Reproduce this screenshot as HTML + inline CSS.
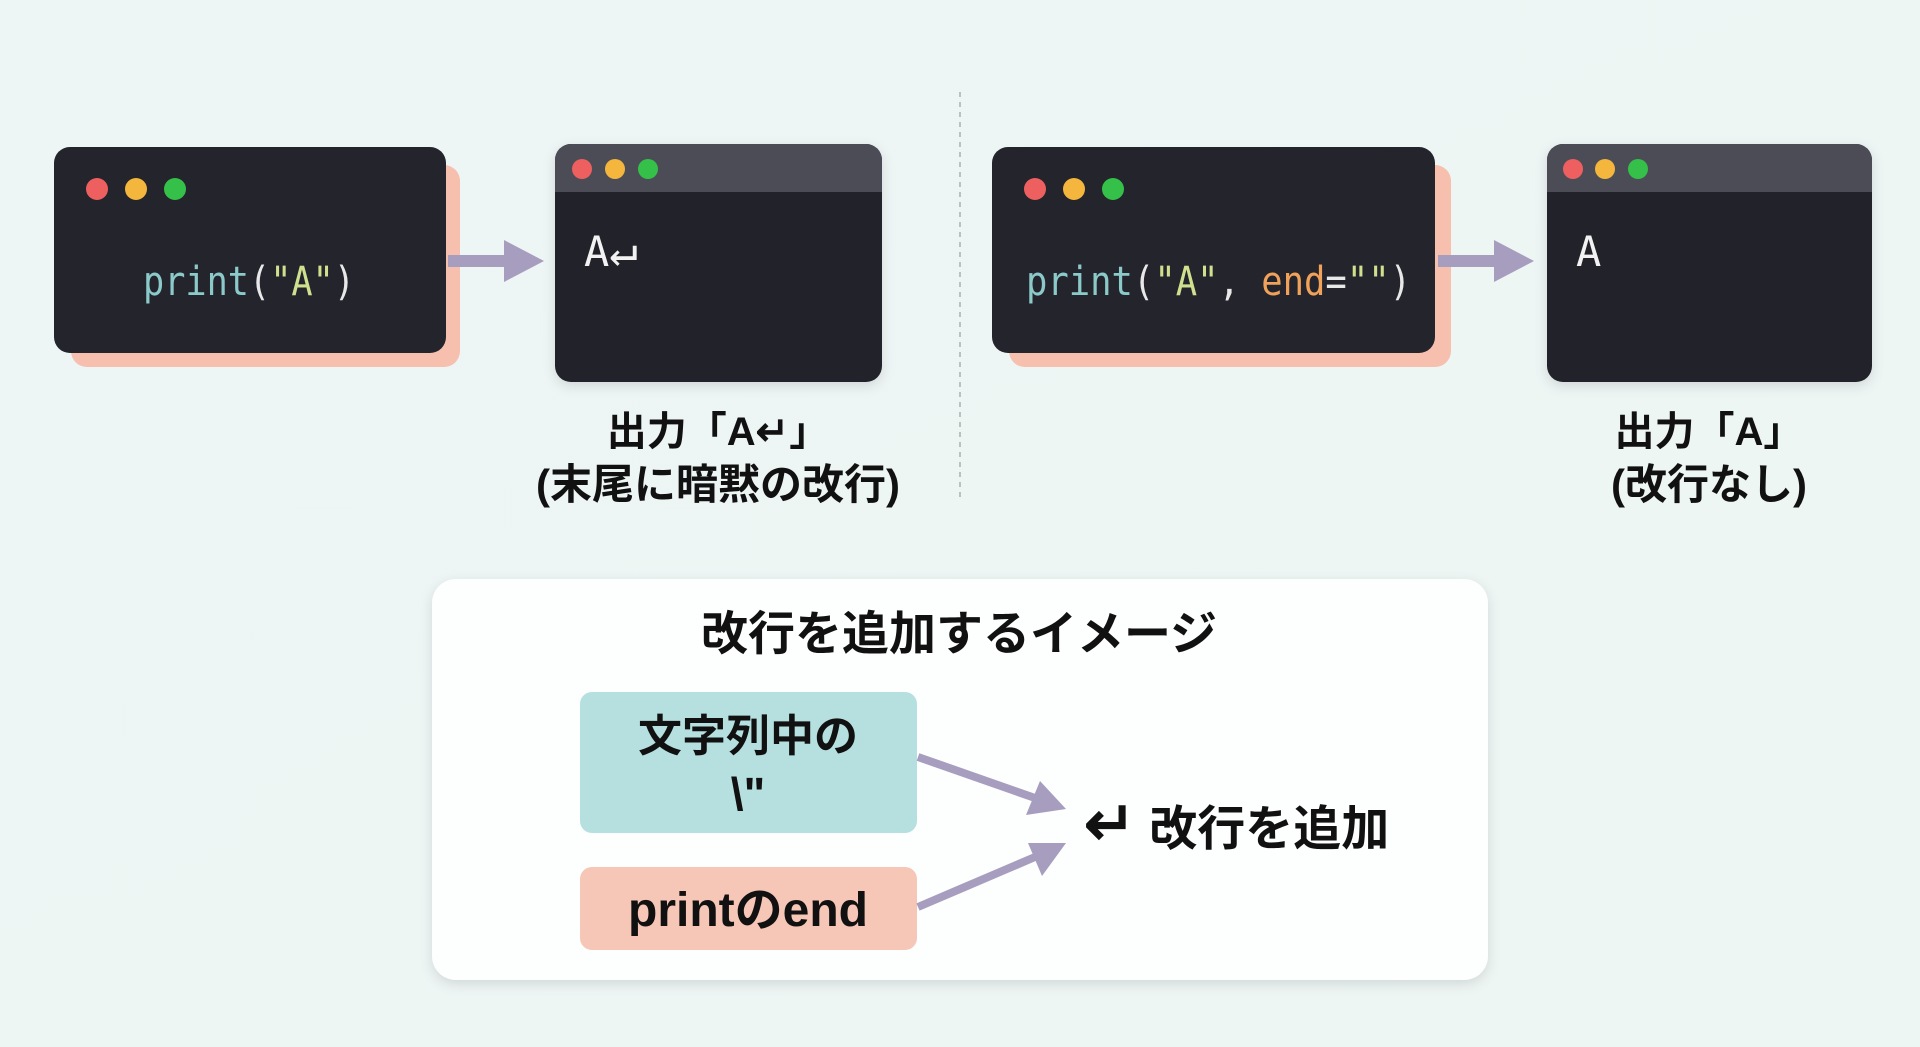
<!DOCTYPE html>
<html><head><meta charset="utf-8"><style>
html,body{margin:0;padding:0;width:1920px;height:1047px;overflow:hidden;background:#eef5f5}
svg{display:block}
.m{font-family:"DejaVu Sans Mono","Liberation Mono",monospace}
.j{font-family:"Liberation Sans","Noto Sans CJK JP",sans-serif;font-weight:bold;fill:#111}
</style></head><body>
<svg width="1920" height="1047" viewBox="0 0 1920 1047" xmlns="http://www.w3.org/2000/svg">
<defs>
<linearGradient id="bg" x1="0" y1="0" x2="1" y2="1"><stop offset="0" stop-color="#edf5f5"/><stop offset="1" stop-color="#eef6f4"/></linearGradient>
<filter id="sh" x="-10%" y="-10%" width="120%" height="130%"><feDropShadow dx="0" dy="4" stdDeviation="6" flood-color="#000" flood-opacity="0.12"/></filter>
</defs>
<rect width="1920" height="1047" fill="url(#bg)"/>
<line x1="960" y1="92" x2="960" y2="502" stroke="#b9c2c2" stroke-width="2" stroke-dasharray="5,5"/>

<!-- terminal 1 -->
<rect x="71" y="165" width="389" height="202" rx="16" fill="#f6bfae"/>
<rect x="54" y="147" width="392" height="206" rx="16" fill="#23242c"/>
<circle cx="97" cy="189" r="11" fill="#ee5f5f"/><circle cx="136" cy="189" r="11" fill="#f4b63c"/><circle cx="175" cy="189" r="11" fill="#35c04a"/>
<text x="143" y="295" textLength="212" lengthAdjust="spacingAndGlyphs" class="m" font-size="40"><tspan fill="#8ccaca">print</tspan><tspan fill="#e8e8e8">(</tspan><tspan fill="#cfe08e">"A"</tspan><tspan fill="#e8e8e8">)</tspan></text>
<rect x="448" y="255" width="60" height="12" fill="#a79dbf"/><polygon points="504,240 544,261 504,282" fill="#a79dbf"/>

<!-- terminal 2 -->
<g filter="url(#sh)"><rect x="555" y="144" width="327" height="238" rx="16" fill="#22232b"/></g>
<path d="M571,144 H866 A16,16 0 0 1 882,160 V192 H555 V160 A16,16 0 0 1 571,144 Z" fill="#4b4c56"/>
<circle cx="582" cy="169" r="10" fill="#ee5f5f"/><circle cx="615" cy="169" r="10" fill="#f4b63c"/><circle cx="648" cy="169" r="10" fill="#35c04a"/>
<text x="584" y="266" class="m" font-size="42" fill="#f2f2f2">A<tspan font-size="48">↵</tspan></text>
<text x="718" y="445" text-anchor="middle" class="j" font-size="40">出力「A↵」</text>
<text x="718" y="499" text-anchor="middle" class="j" font-size="42">(末尾に暗黙の改行)</text>

<!-- terminal 3 -->
<rect x="1009" y="165" width="442" height="202" rx="16" fill="#f6bfae"/>
<rect x="992" y="147" width="443" height="206" rx="16" fill="#23242c"/>
<circle cx="1035" cy="189" r="11" fill="#ee5f5f"/><circle cx="1074" cy="189" r="11" fill="#f4b63c"/><circle cx="1113" cy="189" r="11" fill="#35c04a"/>
<text x="1026" y="295" textLength="385" lengthAdjust="spacingAndGlyphs" class="m" font-size="40"><tspan fill="#8ccaca">print</tspan><tspan fill="#e8e8e8">(</tspan><tspan fill="#cfe08e">"A"</tspan><tspan fill="#e8e8e8">, </tspan><tspan fill="#f0a25a">end</tspan><tspan fill="#e8e8e8">=</tspan><tspan fill="#cfe08e">""</tspan><tspan fill="#e8e8e8">)</tspan></text>
<rect x="1438" y="255" width="60" height="12" fill="#a79dbf"/><polygon points="1494,240 1534,261 1494,282" fill="#a79dbf"/>

<!-- terminal 4 -->
<g filter="url(#sh)"><rect x="1547" y="144" width="325" height="238" rx="16" fill="#22232b"/></g>
<path d="M1563,144 H1856 A16,16 0 0 1 1872,160 V192 H1547 V160 A16,16 0 0 1 1563,144 Z" fill="#4b4c56"/>
<circle cx="1573" cy="169" r="10" fill="#ee5f5f"/><circle cx="1605" cy="169" r="10" fill="#f4b63c"/><circle cx="1638" cy="169" r="10" fill="#35c04a"/>
<text x="1576" y="266" class="m" font-size="42" fill="#f2f2f2">A</text>
<text x="1709" y="445" text-anchor="middle" class="j" font-size="40">出力「A」</text>
<text x="1709" y="499" text-anchor="middle" class="j" font-size="42">(改行なし)</text>

<!-- bottom panel -->
<g filter="url(#sh)"><rect x="432" y="579" width="1056" height="401" rx="24" fill="#fdfefe"/></g>
<text x="959" y="650" text-anchor="middle" class="j" font-size="47">改行を追加するイメージ</text>
<rect x="580" y="692" width="337" height="141" rx="12" fill="#b5e0df"/>
<text x="748" y="751" text-anchor="middle" class="j" font-size="44">文字列中の</text>
<text x="748" y="810" text-anchor="middle" class="j" font-size="46">\"</text>
<rect x="580" y="867" width="337" height="83" rx="12" fill="#f6c6b6"/>
<text x="748" y="926" text-anchor="middle" class="j" font-size="48">printのend</text>
<line x1="918" y1="757" x2="1035" y2="798" stroke="#a79dbf" stroke-width="8"/>
<polygon points="1066,809 1026,815 1040,781" fill="#a79dbf"/>
<line x1="918" y1="907" x2="1035" y2="857" stroke="#a79dbf" stroke-width="8"/>
<polygon points="1066,843 1042,876 1028,843" fill="#a79dbf"/>
<text x="1084" y="845" class="j" font-size="48"><tspan font-size="62">↵</tspan> 改行を追加</text>
</svg>
</body></html>
